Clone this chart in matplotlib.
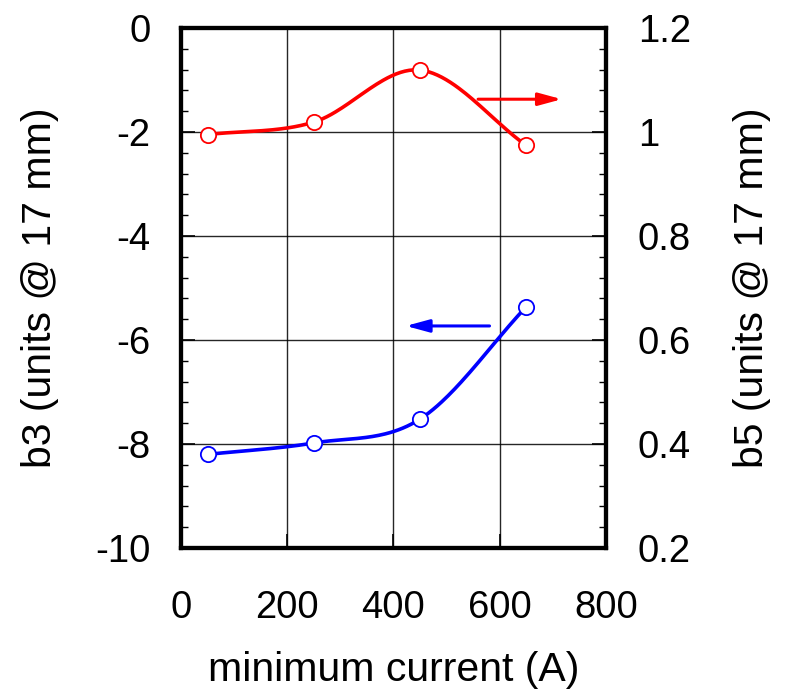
import numpy as np
import matplotlib.pyplot as plt

# measured multipoles vs minimum current
current = [50, 250, 450, 650]
b3 = [-8.2, -7.98, -7.52, -5.36]
b5 = [0.995, 1.019, 1.119, 0.974]

plt.rcParams['font.family'] = ['Liberation Sans', 'DejaVu Sans']
plt.rcParams['axes.unicode_minus'] = False


def smooth(x, y, n=50):
    """cubic Hermite (Catmull-Rom style) curve through the points"""
    x = np.asarray(x, float)
    y = np.asarray(y, float)
    m = np.zeros_like(y)
    m[1:-1] = (y[2:] - y[:-2]) / (x[2:] - x[:-2])
    m[0] = (y[1] - y[0]) / (x[1] - x[0])
    m[-1] = (y[-1] - y[-2]) / (x[-1] - x[-2])
    xs_all, ys_all = [], []
    for i in range(len(x) - 1):
        h = x[i + 1] - x[i]
        t = np.linspace(0, 1, n)
        h00 = 2 * t**3 - 3 * t**2 + 1
        h10 = t**3 - 2 * t**2 + t
        h01 = -2 * t**3 + 3 * t**2
        h11 = t**3 - t**2
        xs_all.append(x[i] + t * h)
        ys_all.append(h00 * y[i] + h10 * h * m[i] + h01 * y[i + 1] + h11 * h * m[i + 1])
    return np.concatenate(xs_all), np.concatenate(ys_all)


fig = plt.figure(figsize=(7.88, 6.99), dpi=100)
ax = fig.add_axes([0.2297, 0.216, 0.5393, 0.744])
ax2 = ax.twinx()

xs, ys = smooth(current, b3)
ax.plot(xs, ys, color='blue', lw=2.6, zorder=3)
ax.plot(current, b3, 'o', ms=11, mfc='white', mec='blue', mew=1.3, zorder=4)

xs, ys = smooth(current, b5)
ax2.plot(xs, ys, color='red', lw=2.6, zorder=3)
ax2.plot(current, b5, 'o', ms=11, mfc='white', mec='red', mew=1.3, zorder=4)

# arrows pointing to each curve's axis
ax.annotate('', xy=(418, -5.73), xytext=(586, -5.73),
            arrowprops=dict(arrowstyle='-|>,head_length=1.4,head_width=0.38',
                            color='blue', lw=2.2))
ax2.annotate('', xy=(722, 1.063), xytext=(554, 1.063),
             arrowprops=dict(arrowstyle='-|>,head_length=1.4,head_width=0.38',
                             color='red', lw=2.2))

ax.set_xlim(0, 800)
ax.set_ylim(-10, 0)
ax2.set_ylim(0.2, 1.2)
ax.set_xticks([0, 200, 400, 600, 800])
ax.set_yticks(np.arange(-10, 0.1, 2))
ax.set_yticks(np.arange(-10, 0.1, 0.4), minor=True)
ax2.set_yticks(np.arange(0.2, 1.21, 0.2))
ax2.set_yticks(np.arange(0.2, 1.21, 0.04), minor=True)
ax2.set_yticklabels(['0.2', '0.4', '0.6', '0.8', '1', '1.2'])

ax.grid(True, color='black', lw=1, alpha=0.85)
for a in (ax, ax2):
    a.tick_params(direction='in', labelsize=27.5, length=10, width=1.2)
    a.tick_params(which='minor', direction='in', length=5, width=1)
    for s in a.spines.values():
        s.set_linewidth(3)
ax.tick_params(axis='x', pad=30)
ax.tick_params(axis='y', pad=22)
ax2.tick_params(axis='y', pad=23)

ax.set_xlabel('minimum current (A)', fontsize=29.5, labelpad=18)
ax.set_ylabel('b3 (units @ 17 mm)', fontsize=29.5, labelpad=26)
ax2.set_ylabel('b5 (units @ 17 mm)', fontsize=29.5, labelpad=30)

fig.savefig('out.png', dpi=100)
